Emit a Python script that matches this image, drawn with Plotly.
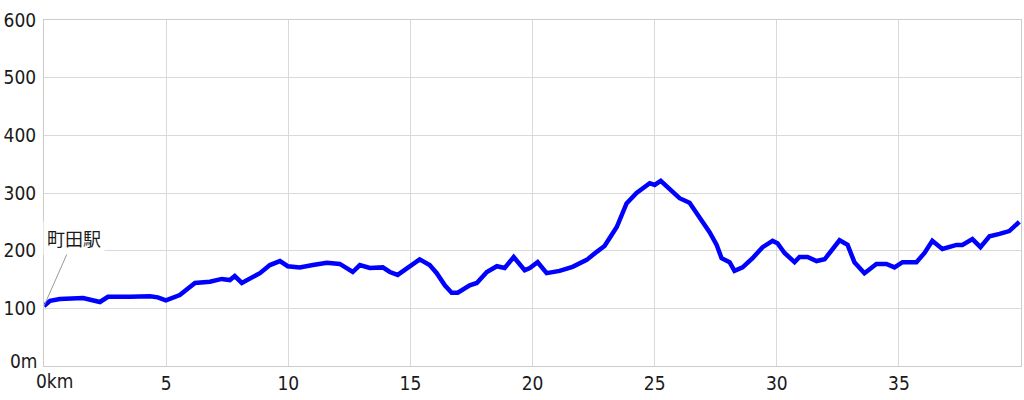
import plotly.graph_objects as go

# distance (km) and elevation (m)
dist_km = [0.00, 0.25, 0.65, 1.60, 2.29, 2.62, 3.52, 4.34, 4.66, 4.99,
           5.56, 6.18, 6.79, 7.28, 7.61, 7.81, 8.10, 8.55, 8.84, 9.25,
           9.66, 9.98, 10.47, 11.01, 11.58, 12.11, 12.40, 12.64, 12.93, 13.34,
           13.87, 14.16, 14.48, 14.98, 15.38, 15.79, 16.08, 16.41, 16.69, 16.94,
           17.43, 17.72, 18.13, 18.54, 18.86, 19.23, 19.68, 19.89, 20.21, 20.58,
           21.11, 21.64, 22.22, 22.63, 22.95, 23.16, 23.45, 23.85, 24.26, 24.80,
           25.00, 25.25, 25.61, 26.02, 26.43, 26.84, 27.25, 27.54, 27.74, 28.07,
           28.27, 28.60, 29.01, 29.42, 29.83, 30.03, 30.32, 30.73, 30.93, 31.26,
           31.63, 31.96, 32.28, 32.57, 32.90, 33.18, 33.59, 34.08, 34.49, 34.82,
           35.15, 35.72, 36.05, 36.37, 36.78, 37.36, 37.60, 38.01, 38.34, 38.71,
           39.12, 39.52, 39.93]
elev_m = [104, 113, 116, 118, 111, 120, 120, 121, 119, 114,
          123, 144, 146, 151, 149, 156, 144, 154, 161, 175,
          182, 173, 171, 175, 179, 177, 170, 163, 175, 170,
          171, 163, 158, 173, 185, 175, 161, 140, 127, 127,
          140, 144, 163, 173, 170, 189, 166, 170, 180, 161,
          165, 172, 184, 198, 208, 222, 241, 282, 300, 317,
          314, 321, 307, 291, 283, 258, 232, 210, 187, 180,
          165, 171, 187, 206, 217, 213, 196, 180, 189, 189,
          182, 185, 204, 218, 210, 180, 161, 177, 177, 171,
          180, 180, 196, 217, 203, 210, 210, 220, 206, 225,
          229, 234, 250]

x_tickvals = [0, 5, 10, 15, 20, 25, 30, 35]
x_ticktext = ["", "5", "10", "15", "20", "25", "30", "35"]
y_tickvals = [0, 100, 200, 300, 400, 500, 600]
y_ticktext = ["", "100", "200", "300", "400", "500", "600"]

station_name = "町田駅"

FONT = "Noto Sans CJK JP"
TICKFONT = "DejaVu Sans Condensed"
GRID = "#d9d9d9"
TXT = "#1a1a1a"

fig = go.Figure()
fig.add_trace(go.Scatter(x=dist_km, y=elev_m, mode="lines",
                         line=dict(color="#0000ff", width=4.5),
                         hoverinfo="skip"))

tick_font = dict(family=TICKFONT, size=19, color=TXT)

fig.update_layout(
    width=1024, height=400,
    margin=dict(l=44, r=3, t=20, b=34, autoexpand=False),
    paper_bgcolor="white", plot_bgcolor="white",
    showlegend=False,
    font=dict(family=FONT, size=18, color=TXT),
    xaxis=dict(range=[0, 40], tickvals=x_tickvals, ticktext=x_ticktext,
               automargin=False,
               showgrid=True, gridcolor=GRID, gridwidth=1,
               showline=True, linecolor="#cccccc", linewidth=1, mirror=True,
               zeroline=False, ticks="", ticklabelstandoff=0,
               tickfont=tick_font),
    yaxis=dict(range=[0, 600], tickvals=y_tickvals, ticktext=y_ticktext,
               automargin=False,
               showgrid=True, gridcolor=GRID, gridwidth=1,
               showline=True, linecolor="#cccccc", linewidth=1, mirror=True,
               zeroline=False, ticks="", ticklabelstandoff=3,
               tickfont=tick_font),
    annotations=[
        dict(x=0, y=elev_m[0], xref="x", yref="y", text=station_name,
             showarrow=True, arrowhead=0, arrowwidth=1, arrowcolor="#999999",
             ax=30, ay=-68, bgcolor="white", borderpad=3,
             font=dict(family=FONT, size=18, color=TXT)),
        dict(x=0, y=0, xref="x", yref="paper", text="0km", showarrow=False,
             xanchor="left", yanchor="top", xshift=-10, yshift=-2,
             font=tick_font),
        dict(x=0, y=0, xref="paper", yref="y", text="0m", showarrow=False,
             xanchor="right", yanchor="middle", xshift=-4, yshift=5,
             font=tick_font),
    ],
)

fig.write_html("out.html", config={"displayModeBar": False},
               post_script="document.body.style.margin='0px';document.body.style.overflow='hidden';")
